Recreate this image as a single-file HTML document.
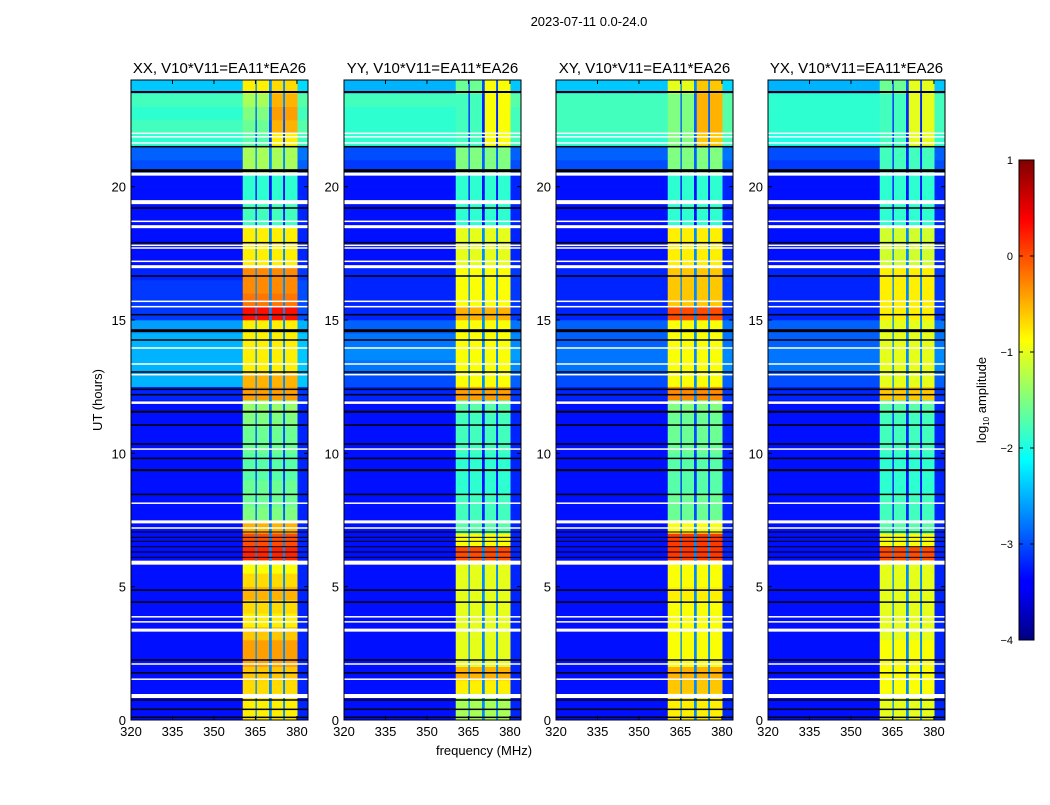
<!DOCTYPE html>
<html><head><meta charset="utf-8"><style>
body{margin:0;background:#fff;}
svg text{font-family:"Liberation Sans",sans-serif;fill:#000;}
</style></head><body>
<svg id="fig" width="1050" height="800" xmlns="http://www.w3.org/2000/svg">
<defs><linearGradient id="jet" x1="0" y1="1" x2="0" y2="0">
<stop offset="0" stop-color="#000080"/><stop offset="0.11" stop-color="#0000ff"/><stop offset="0.125" stop-color="#0000ff"/>
<stop offset="0.375" stop-color="#00ffff"/><stop offset="0.625" stop-color="#ffff00"/><stop offset="0.875" stop-color="#ff0000"/><stop offset="1" stop-color="#800000"/>
</linearGradient></defs>
<text x="589" y="26" font-size="13" text-anchor="middle">2023-07-11 0.0-24.0</text>
<text x="484" y="755" font-size="13" text-anchor="middle">frequency (MHz)</text>
<text transform="translate(102,400) rotate(-90)" font-size="13" text-anchor="middle">UT (hours)</text>
<g id="cb">
<rect x="1019" y="160" width="15" height="480" fill="url(#jet)" stroke="#000" stroke-width="1"/>
<text transform="translate(986,400) rotate(-90)" font-size="13" text-anchor="middle">log<tspan font-size="8" dy="3">10</tspan><tspan dy="-3"> amplitude</tspan></text>
</g>
</svg>
<script>
const NS="http://www.w3.org/2000/svg";
const svg=document.getElementById('fig');
const panelTitles=["XX, V10*V11=EA11*EA26","YY, V10*V11=EA11*EA26","XY, V10*V11=EA11*EA26","YX, V10*V11=EA11*EA26"];
const xTicks=[320,335,350,365,380];
const yTicks=[0,5,10,15,20];
const cbTicks=[1,0,-1,-2,-3,-4];
// background log amplitude per half-hour bin (0..24h), per panel
const bgXX=[-3.3,-3.3,-3.3,-3.3,-3.3,-3.3,-3.3,-3.3,-3.3,-3.3,-3.3,-3.3,-3.3,-3.3,-3.3,-3.3,-3.3,-3.3,-3.3,-3.3,-3.3,-3.3,-3.3,-3.3,-3.2,-2.5,-2.5,-2.5,-2.5,-2.6,-3.1,-3.1,-3.1,-3.2,-3.3,-3.3,-3.3,-3.3,-3.3,-3.3,-3.3,-3.0,-2.9,-1.9,-1.8,-1.9,-1.8,-2.4];
const bgYY=[-3.3,-3.3,-3.3,-3.3,-3.3,-3.3,-3.3,-3.3,-3.3,-3.3,-3.3,-3.3,-3.3,-3.3,-3.3,-3.3,-3.3,-3.3,-3.3,-3.3,-3.3,-3.3,-3.3,-3.3,-3.2,-3.0,-2.8,-2.7,-2.8,-2.9,-3.2,-3.2,-3.2,-3.2,-3.3,-3.3,-3.3,-3.3,-3.3,-3.3,-3.3,-3.1,-3.0,-1.9,-1.9,-1.9,-1.8,-2.5];
const bgXY=[-3.3,-3.3,-3.3,-3.3,-3.3,-3.3,-3.3,-3.3,-3.3,-3.3,-3.3,-3.3,-3.3,-3.3,-3.3,-3.3,-3.3,-3.3,-3.3,-3.3,-3.3,-3.3,-3.3,-3.3,-3.2,-3.0,-2.8,-2.8,-2.9,-2.9,-3.2,-3.2,-3.2,-3.2,-3.3,-3.3,-3.3,-3.3,-3.3,-3.3,-3.3,-3.0,-2.9,-1.9,-1.8,-1.8,-1.8,-2.4];
const bgYX=[-3.3,-3.3,-3.3,-3.3,-3.3,-3.3,-3.3,-3.3,-3.3,-3.3,-3.3,-3.3,-3.3,-3.3,-3.3,-3.3,-3.3,-3.3,-3.3,-3.3,-3.3,-3.3,-3.3,-3.3,-3.2,-3.0,-2.8,-2.8,-2.9,-2.9,-3.2,-3.2,-3.2,-3.2,-3.3,-3.3,-3.3,-3.3,-3.3,-3.3,-3.3,-3.1,-3.0,-2.0,-1.9,-1.9,-1.9,-2.5];
// band A (361-370 MHz) and band B (371-380 MHz)
const aXX=[-0.8,-0.8,-0.7,-0.6,-0.4,-0.4,-0.6,-0.8,-0.7,-0.5,-0.7,-0.9,0.2,0.0,-0.5,-1.5,-1.6,-1.6,-1.7,-1.7,-1.6,-1.6,-1.5,-1.4,-0.4,-0.5,-0.8,-0.8,-0.8,-0.8,0.3,-0.2,-0.3,-0.3,-0.8,-0.8,-0.8,-1.8,-1.8,-1.9,-1.9,-1.3,-1.3,-1.7,-1.6,-1.5,-1.3,-0.8];
const bXX=[-0.8,-0.8,-0.7,-0.6,-0.4,-0.4,-0.6,-0.8,-0.7,-0.5,-0.7,-0.9,0.2,0.0,-0.5,-1.5,-1.6,-1.6,-1.7,-1.7,-1.6,-1.6,-1.5,-1.4,-0.4,-0.5,-0.8,-0.8,-0.8,-0.8,0.3,-0.2,-0.3,-0.3,-0.8,-0.8,-0.8,-1.8,-1.8,-1.9,-1.9,-1.3,-1.3,-0.8,-0.5,-0.4,-0.5,-0.7];
const aYY=[-1.3,-1.3,-0.8,-0.5,-1.0,-1.0,-1.0,-1.0,-1.0,-1.0,-1.0,-1.0,0.0,-0.9,-1.7,-1.8,-1.8,-1.9,-1.9,-1.9,-1.8,-1.8,-1.8,-1.7,-0.4,-0.9,-0.9,-0.9,-0.9,-0.9,-0.5,-0.9,-0.9,-0.9,-1.0,-1.0,-1.0,-1.9,-1.9,-1.9,-1.9,-1.5,-1.5,-1.8,-1.8,-1.8,-1.8,-1.6];
const bYY=[-1.3,-1.3,-0.8,-0.5,-1.0,-1.0,-1.0,-1.0,-1.0,-1.0,-1.0,-1.0,0.0,-0.9,-1.7,-1.8,-1.8,-1.9,-1.9,-1.9,-1.8,-1.8,-1.8,-1.7,-0.4,-0.9,-0.9,-0.9,-0.9,-0.9,-0.5,-0.9,-0.9,-0.9,-1.0,-1.0,-1.0,-1.9,-1.9,-1.9,-1.9,-1.5,-1.5,-0.9,-0.9,-0.9,-0.9,-0.9];
const aXY=[-0.8,-0.8,-0.6,-0.5,-0.9,-0.9,-0.9,-0.9,-0.9,-0.8,-0.9,-0.9,0.1,0.1,-0.9,-1.6,-1.6,-1.7,-1.7,-1.7,-1.6,-1.6,-1.6,-1.5,-0.3,-0.9,-0.9,-0.9,-0.9,-0.9,0.0,-0.6,-0.6,-0.6,-0.8,-0.8,-0.8,-1.9,-1.9,-1.9,-1.9,-1.5,-1.5,-1.5,-1.5,-1.5,-1.5,-1.0];
const bXY=[-0.8,-0.8,-0.6,-0.5,-0.9,-0.9,-0.9,-0.9,-0.9,-0.8,-0.9,-0.9,0.1,0.1,-0.9,-1.6,-1.6,-1.7,-1.7,-1.7,-1.6,-1.6,-1.6,-1.5,-0.3,-0.9,-0.9,-0.9,-0.9,-0.9,0.0,-0.6,-0.6,-0.6,-0.8,-0.8,-0.8,-1.9,-1.9,-1.9,-1.9,-1.5,-1.5,-0.6,-0.5,-0.5,-0.5,-0.6];
const aYX=[-1.0,-1.0,-0.9,-0.9,-0.9,-0.9,-1.0,-1.0,-1.0,-1.0,-1.0,-1.0,0.0,-0.9,-1.7,-1.8,-1.8,-1.9,-1.9,-1.9,-1.8,-1.8,-1.8,-1.7,-0.6,-1.0,-1.0,-1.0,-1.0,-1.0,-0.8,-0.8,-0.8,-0.8,-1.1,-1.1,-1.1,-1.9,-1.9,-1.9,-1.9,-1.8,-1.8,-1.8,-1.8,-1.8,-1.8,-1.6];
const bYX=[-1.0,-1.0,-0.9,-0.9,-0.9,-0.9,-1.0,-1.0,-1.0,-1.0,-1.0,-1.0,0.0,-0.9,-1.7,-1.8,-1.8,-1.9,-1.9,-1.9,-1.8,-1.8,-1.8,-1.7,-0.6,-1.0,-1.0,-1.0,-1.0,-1.0,-0.8,-0.8,-0.8,-0.8,-1.1,-1.1,-1.1,-1.9,-1.9,-1.9,-1.9,-1.8,-1.8,-1.0,-1.0,-1.0,-1.0,-1.0];
// flagged times (hours): white = no data, black = dropouts
const whiteH=[0.9,1.53,2.1,3.37,3.68,3.87,5.9,7.2,7.43,8.13,10.16,11.9,12.95,13.35,13.95,15.5,15.7,17.0,17.2,17.7,17.8,18.5,18.7,19.42,20.47,21.64,21.87,22.0];
const whiteW=[4,1.5,1.5,3,1.5,1.5,4,1.5,3,1.5,1.5,2.5,1.5,1.5,1.5,1.5,1.5,3,1.5,1.5,1.5,3,1.5,4,3,1.5,1.5,1.5];
const blackH=[0.1,0.4,0.75,1.77,2.25,4.42,4.87,6.1,6.3,6.5,6.7,6.85,7.05,8.46,9.37,9.81,10.35,11.06,11.56,12.2,12.4,13.05,14.25,14.6,15.2,16.65,17.9,19.2,20.6,21.5,23.55];
const blackW=[1.5,1.5,1.5,1.5,1.5,1.5,1.5,1,1,1,1,1,1,1.5,2,1.5,1.5,1.5,2,1.5,1.5,1.5,1.5,3,1.5,1.5,1.5,1.5,3,1.5,2];

const panels=[{x:131,bg:bgXX,a:aXX,b:bXX},{x:344,bg:bgYY,a:aYY,b:bYY},{x:556,bg:bgXY,a:aXY,b:bXY},{x:768,bg:bgYX,a:aYX,b:bYX}];
const W=177,TOP=80,BOT=720,FMIN=320,FMAX=384,HMAX=24;
function jet(v){let t=(v+4)/5;t=Math.max(0,Math.min(1,t));
 const c=x=>Math.round(255*Math.max(0,Math.min(1,x)));
 return `rgb(${c(1.5-Math.abs(4*t-3))},${c(1.5-Math.abs(4*t-2))},${c(1.5-Math.abs(4*t-1))})`;}
function el(tag,attrs,parent){const e=document.createElementNS(NS,tag);for(const k in attrs)e.setAttribute(k,attrs[k]);(parent||svg).appendChild(e);return e;}
const yS=h=>BOT-(h/HMAX)*(BOT-TOP);
panels.forEach((p,pi)=>{
 const xS=f=>p.x+(f-FMIN)/(FMAX-FMIN)*W;
 const g=el('g',{});
 
 
 const segs=[[320,360.4,'bg'],[360.4,365.0,'a'],[365.0,365.5,'line'],[365.5,369.9,'a'],[369.9,370.9,'line'],[370.9,375.0,'b'],[375.0,375.7,'line'],[375.7,380.2,'b'],[380.2,384,'edge']];
 for(let i=0;i<p.bg.length;i++){
  const h0=i*0.5,h1=h0+0.5;
  segs.forEach(s=>{
   let v;
   if(s[2]==='bg')v=p.bg[i];else if(s[2]==='a')v=p.a[i];else if(s[2]==='b')v=p.b[i];
   else if(s[2]==='line')v=Math.min(-2.7,Math.min(p.a[i],p.b[i])-1.4);else v=p.bg[i]+0.1;
   const r=el('rect',{x:xS(s[0]),y:yS(h1),width:xS(s[1])-xS(s[0])+0.3,height:yS(h0)-yS(h1)+0.3,fill:jet(v)},g);
   
   
  });
 }
 whiteH.forEach((h,k)=>{const r=el('rect',{x:p.x,y:yS(h)-whiteW[k]/2,width:W,height:whiteW[k],fill:'#fff'},g);
  
  });
 blackH.forEach((h,k)=>{const r=el('rect',{x:p.x,y:yS(h)-blackW[k]/2,width:W,height:blackW[k],fill:'#000'},g);
  
  });
 const fr=el('rect',{x:p.x,y:TOP,width:W,height:BOT-TOP,fill:'none',stroke:'#000','stroke-width':1},g);
 
 
 const t=el('text',{x:p.x+W/2,y:73,'font-size':15,'text-anchor':'middle'},g);t.textContent=panelTitles[pi];
 
 
 xTicks.forEach(f=>{const x=xS(f);
  el('line',{x1:x,y1:BOT,x2:x,y2:BOT-4,stroke:'#000'},g);el('line',{x1:x,y1:TOP,x2:x,y2:TOP+4,stroke:'#000'},g);
  const tl=el('text',{x:x,y:BOT+16,'font-size':13,'text-anchor':'middle'},g);tl.textContent=f;
  
  });
 yTicks.forEach(h=>{const y=yS(h);
  el('line',{x1:p.x,y1:y,x2:p.x+4,y2:y,stroke:'#000'},g);el('line',{x1:p.x+W,y1:y,x2:p.x+W-4,y2:y,stroke:'#000'},g);
  const tl=el('text',{x:p.x-5,y:y+5,'font-size':13,'text-anchor':'end'},g);tl.textContent=h;
  
  });
});
const cb=document.getElementById('cb');
cbTicks.forEach(v=>{const y=160+(1-v)/5*480;
 el('line',{x1:1019,y1:y,x2:1023,y2:y,stroke:'#000'},cb);el('line',{x1:1034,y1:y,x2:1030,y2:y,stroke:'#000'},cb);
 const tl=el('text',{x:1013,y:y+4,'font-size':11,'text-anchor':'end'},cb);tl.textContent=v<0?'\u2212'+(-v):v;
 
 });
</script>
</body></html>
